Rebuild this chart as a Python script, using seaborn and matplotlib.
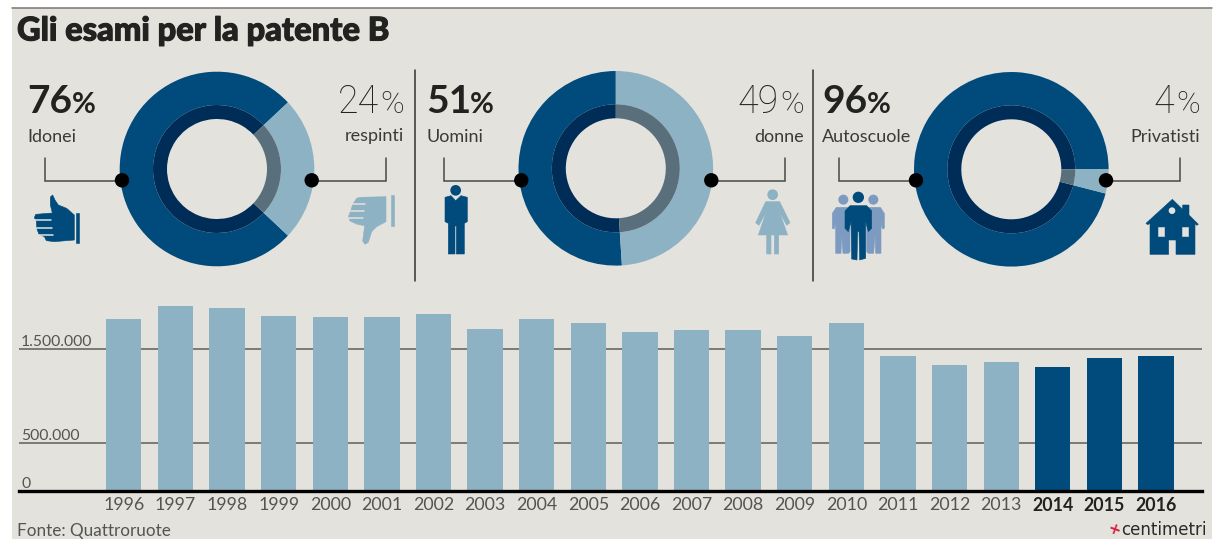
import matplotlib
matplotlib.use("Agg")
import matplotlib.pyplot as plt
import matplotlib.patheffects as pe
from matplotlib.patches import Circle, Polygon, Rectangle
import pandas as pd
import seaborn as sns

# Exam totals per year
years = [str(y) for y in range(1996, 2017)]
totals = [1825000, 1960000, 1940000, 1857000, 1845000, 1845000, 1876000,
          1720000, 1823000, 1780000, 1685000, 1710000, 1710000, 1647000,
          1778000, 1427000, 1336000, 1368000, 1315000, 1410000, 1431000]
recent_years = ["2014", "2015", "2016"]

# Donut shares and their captions
idonei_share = [76, 24]
uomini_share = [51, 49]
autoscuole_share = [96, 4]
idonei_labels = ["Idonei", "respinti"]
uomini_labels = ["Uomini", "donne"]
autoscuole_labels = ["Autoscuole", "Privatisti"]
value_ticks = [0, 500000, 1500000]
value_tick_labels = ["0", "500.000", "1.500.000"]

W, H = 1230, 539
PANEL = "#e3e2dc"
DARK = "#004b7c"
LIGHT = "#8db2c4"
RING_DARK = "#002d57"
RING_LIGHT = "#5a6f7c"
SIDE_FIGURE = "#7d9bc1"
INK = "#222220"
GREY_TEXT = "#55554f"
BODY = ["Lato", "DejaVu Sans"]
THIN = ["Roboto", "DejaVu Sans"]

sns.set_theme(style="white")
plt.rcParams["font.family"] = BODY

fig = plt.figure(figsize=(W / 100, H / 100), dpi=100, facecolor="white")


def pixel_axes(left, top, right, bottom, **kwargs):
    return fig.add_axes([left / W, 1 - bottom / H, (right - left) / W, (bottom - top) / H], **kwargs)


def canvas(zorder):
    ax = pixel_axes(0, 0, W, H, zorder=zorder)
    ax.set_xlim(0, W)
    ax.set_ylim(H, 0)
    ax.axis("off")
    return ax


back = canvas(0)
back.add_patch(Rectangle((12, 8), 1200, 531, fc=PANEL, ec="none"))
back.plot([12, 1212], [8.3, 8.3], color="#77776f", lw=1.1)

# Yearly bar chart
bars_ax = pixel_axes(19, 290, 1202, 490.5, zorder=1)
bars_ax.patch.set_alpha(0)
frame = pd.DataFrame({"anno": years, "esami": totals})
frame["periodo"] = ["recente" if y in recent_years else "storico" for y in years]
sns.barplot(data=frame, x="anno", y="esami", hue="periodo",
            palette={"storico": LIGHT, "recente": DARK}, dodge=False,
            width=0.684, saturation=1, legend=False, linewidth=0, ax=bars_ax, zorder=3)
bars_ax.set_xlim(-2.03, 20.89)
bars_ax.set_ylim(0, 200.5 / 94.1e-6)
bars_ax.set_xlabel("")
bars_ax.set_ylabel("")
bars_ax.set_axisbelow(True)
bars_ax.yaxis.grid(True, color="#5f5e58", lw=1.1)
bars_ax.xaxis.grid(False)
for side in ("top", "left", "right"):
    bars_ax.spines[side].set_visible(False)
bars_ax.spines["bottom"].set_color("black")
bars_ax.spines["bottom"].set_linewidth(2.4)
bars_ax.spines["bottom"].set_zorder(5)
bars_ax.set_yticks(value_ticks, value_tick_labels)
bars_ax.tick_params(axis="y", length=0, pad=-1.5, labelsize=11.3, labelcolor=GREY_TEXT)
for label in bars_ax.get_yticklabels():
    label.set_horizontalalignment("left")
    label.set_verticalalignment("bottom")
bars_ax.tick_params(axis="x", length=0, pad=4.5, labelsize=12.8, labelcolor=GREY_TEXT)
for label in bars_ax.get_xticklabels():
    if label.get_text() in recent_years:
        label.set_fontweight("bold")
        label.set_color(INK)


def donut(cx, cy, shares, start):
    r = 97.3
    pad = 1.02
    ax = pixel_axes(cx - r * pad, cy - r * pad, cx + r * pad, cy + r * pad, zorder=2)
    ax.pie(shares, colors=[DARK, LIGHT], radius=1, startangle=start,
           wedgeprops={"width": 33.3 / r, "linewidth": 0})
    ax.pie(shares, colors=[RING_DARK, RING_LIGHT], radius=64 / r, startangle=start,
           wedgeprops={"width": 14 / r, "linewidth": 0})
    ax.set_xlim(-pad, pad)
    ax.set_ylim(-pad, pad)


donut(217, 169, idonei_share, 43.2)
donut(615.8, 168.3, uomini_share, 90)
donut(1011.3, 169.3, autoscuole_share, 0)

top = canvas(3)

# Dividers between the three donuts
for x in (414.5, 812.5):
    top.plot([x, x], [70, 281], color="#33332f", lw=1.1)

# Leader lines ending in a black dot on each ring
leaders = [(45, 122), (385.7, 311.7), (444.3, 521.3), (785, 711.3), (839.3, 916), (1179.7, 1106)]
for x_elbow, x_dot in leaders:
    top.plot([x_elbow, x_elbow, x_dot], [158, 180.5, 180.5], color="#4a4a45", lw=1.1, solid_joinstyle="miter")
    top.add_patch(Circle((x_dot, 180.3), 7.2, fc="black", ec="none", zorder=5))


def share_label(value, x_value, x_pct, caption, x_caption, major):
    if major:
        style = dict(family=BODY, weight="bold", color=INK, ha="left", va="baseline")
    else:
        style = dict(family=THIN, weight="light", color=INK, ha="right", va="baseline")
    top.text(x_value, 113, f"{value}", size=28 if major else 27, **style)
    top.text(x_pct, 113, "%", size=21 if major else 23, **style)
    top.text(x_caption, 141.5, caption, size=13, color="#3a3a36", ha=style["ha"], va="baseline")


share_label(idonei_share[0], 27, 71.5, idonei_labels[0], 27, True)
share_label(idonei_share[1], 379, 404.5, idonei_labels[1], 404.5, False)
share_label(uomini_share[0], 426, 469.5, uomini_labels[0], 426, True)
share_label(uomini_share[1], 779, 803.5, uomini_labels[1], 803.5, False)
share_label(autoscuole_share[0], 822, 866.5, autoscuole_labels[0], 822, True)
share_label(autoscuole_share[1], 1174, 1199.5, autoscuole_labels[1], 1199.5, False)

top.text(17, 40.5, "Gli esami per la patente B", size=23.5, weight="black", color=INK, ha="left", va="baseline",
         path_effects=[pe.withStroke(linewidth=0.8, foreground=INK)])
top.text(17, 536, "Fonte: Quattroruote", size=12.3, color=GREY_TEXT, ha="left", va="baseline")
top.text(1121, 535, "centimetri", family=["DejaVu Sans"], size=12, color="#2a2a28", ha="left", va="baseline")
top.text(1113.5, 530, "+", family=["DejaVu Sans"], size=11, weight="bold", color="#d8243c", ha="center", va="center",
         rotation=-20)


# Pictograms, outlined on a 3x grid relative to their corner
def shape(origin, points, color, zorder=4):
    ox, oy = origin
    pts = [(ox + x / 3, oy + y / 3) for x, y in points]
    top.add_patch(Polygon(pts, closed=True, fc=color, ec=color, lw=0.4, joinstyle="round", zorder=zorder))


def disc(origin, x, y, r, color, zorder=4):
    top.add_patch(Circle((origin[0] + x / 3, origin[1] + y / 3), r / 3, fc=color, ec="none", zorder=zorder))


def stripes(origin, segments, zorder=5):
    for x0, x1, y in segments:
        top.plot([origin[0] + x0 / 3, origin[0] + x1 / 3], [origin[1] + y / 3] * 2,
                 color=PANEL, lw=1.1, zorder=zorder)


up = (25, 185)
shape(up, [(76, 36), (83, 30), (90, 45), (100, 60), (125, 70), (148, 90), (148, 165), (88, 170), (64, 167),
           (58, 155), (42, 148), (35, 130), (34, 108), (28, 98), (32, 88), (82, 84), (76, 60)], DARK)
stripes(up, [(28, 78, 105), (32, 80, 128), (42, 84, 150)])
shape(up, [(154, 85), (162, 85), (162, 175), (154, 175)], DARK)

down = (340, 185)
shape(down, [(60, 37), (138, 35), (138, 110), (110, 125), (95, 140), (85, 172), (75, 178), (68, 168), (74, 122),
             (52, 118), (30, 108), (25, 95), (32, 78), (38, 58), (50, 40)], LIGHT)
stripes(down, [(36, 76, 57), (30, 72, 79), (24, 70, 100)])
shape(down, [(154, 30), (162, 30), (162, 122), (154, 122)], LIGHT)

man = (435, 180)
disc(man, 62, 31, 16, DARK)
shape(man, [(30, 52), (48, 47), (62, 62), (78, 47), (97, 52), (97, 125), (88, 130), (88, 222), (64, 222), (64, 138),
            (60, 138), (60, 222), (40, 222), (40, 130), (30, 125)], DARK)

woman = (745, 180)
disc(woman, 83, 44, 16, LIGHT)
shape(woman, [(62, 65), (104, 65), (135, 128), (125, 136), (103, 95), (128, 165), (101, 165), (101, 222), (88, 222),
              (88, 165), (78, 165), (78, 222), (65, 222), (65, 165), (40, 165), (64, 95), (42, 136), (32, 128)], LIGHT)

group = (825, 185)
disc(group, 55, 44, 15, SIDE_FIGURE)
disc(group, 145, 44, 15, SIDE_FIGURE)
shape(group, [(22, 85), (34, 67), (75, 67), (75, 200), (70, 205), (54, 205), (50, 150), (48, 205), (32, 205), (32, 110),
              (28, 132), (22, 130)], SIDE_FIGURE)
shape(group, [(178, 85), (166, 67), (125, 67), (125, 200), (130, 205), (146, 205), (150, 150), (152, 205), (168, 205),
              (168, 110), (172, 132), (178, 130)], SIDE_FIGURE)
disc(group, 100, 37, 17, DARK, zorder=5)
shape(group, [(60, 78), (75, 62), (125, 62), (140, 78), (140, 130), (130, 140), (122, 110), (122, 220), (104, 225),
              (102, 140), (98, 140), (96, 225), (80, 222), (78, 110), (70, 140), (60, 130)], DARK, zorder=5)

house = (1140, 190)
shape(house, [(18, 100), (97, 28), (128, 58), (128, 45), (147, 45), (147, 75), (175, 103), (170, 106), (165, 100),
              (165, 193), (108, 193), (108, 150), (86, 150), (86, 193), (30, 193), (30, 100), (23, 104)], DARK)
disc(house, 96, 62, 10, PANEL, zorder=5)
shape(house, [(54, 110), (71, 110), (71, 137), (54, 137)], PANEL, zorder=5)
shape(house, [(127, 110), (143, 110), (143, 137), (127, 137)], PANEL, zorder=5)

fig.savefig("out.png", dpi=100)
